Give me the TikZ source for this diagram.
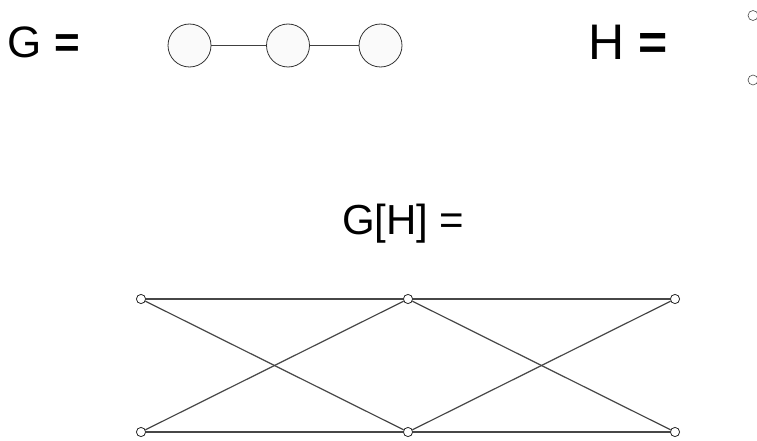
\documentclass[tikz,border=0pt]{standalone}
\usepackage{fontspec}
\setmainfont{Liberation Sans}
\begin{document}
\begin{tikzpicture}[x=1pt,y=-1pt,
  lbl/.style={inner sep=0pt, outer sep=0pt, text=black, anchor=base west},
  bignode/.style={circle, draw=black!80, fill=black!2, line width=0.8pt, minimum size=43pt, inner sep=0pt},
  smallnode/.style={circle, draw=black!85, fill=white, line width=0.8pt, minimum size=9.2pt, inner sep=0pt},
  tinynode/.style={circle, draw=black!70, fill=white, line width=0.6pt, minimum size=10pt, inner sep=0pt},
  gedge/.style={draw=black!75, line width=0.9pt},
  edge/.style={draw=black!72, line width=1.2pt}]
\useasboundingbox (0,0) rectangle (757,441);
\node[lbl, font=\fontsize{44}{48}\selectfont] (Glbl) at (7.9,57.8) {G \textbf{=}};
\node[bignode] (g1) at (189.5,45.5) {};
\node[bignode] (g2) at (288,45.5) {};
\node[bignode] (g3) at (380.5,45.5) {};
\draw[gedge] (g1) -- (g2);
\draw[gedge] (g2) -- (g3);
\node[lbl, font=\fontsize{50}{54}\selectfont] (Hlbl) at (588,60) {H \textbf{=}};
\node[tinynode] (h1) at (753,15.5) {};
\node[tinynode] (h2) at (753,80) {};
\node[lbl, font=\fontsize{42}{46}\selectfont] (GHlbl) at (342,234.5) {G[H] =};
\node[smallnode] (a1) at (141,299) {};
\node[smallnode] (a2) at (408,299) {};
\node[smallnode] (a3) at (675,299) {};
\node[smallnode] (b1) at (141,432) {};
\node[smallnode] (b2) at (408,432) {};
\node[smallnode] (b3) at (675,432) {};
\draw[edge] (a1) -- (a2);
\draw[edge] (a2) -- (a3);
\draw[edge] (b1) -- (b2);
\draw[edge] (b2) -- (b3);
\draw[edge] (a1) -- (b2);
\draw[edge] (b1) -- (a2);
\draw[edge] (a2) -- (b3);
\draw[edge] (b2) -- (a3);
\end{tikzpicture}
\end{document}
